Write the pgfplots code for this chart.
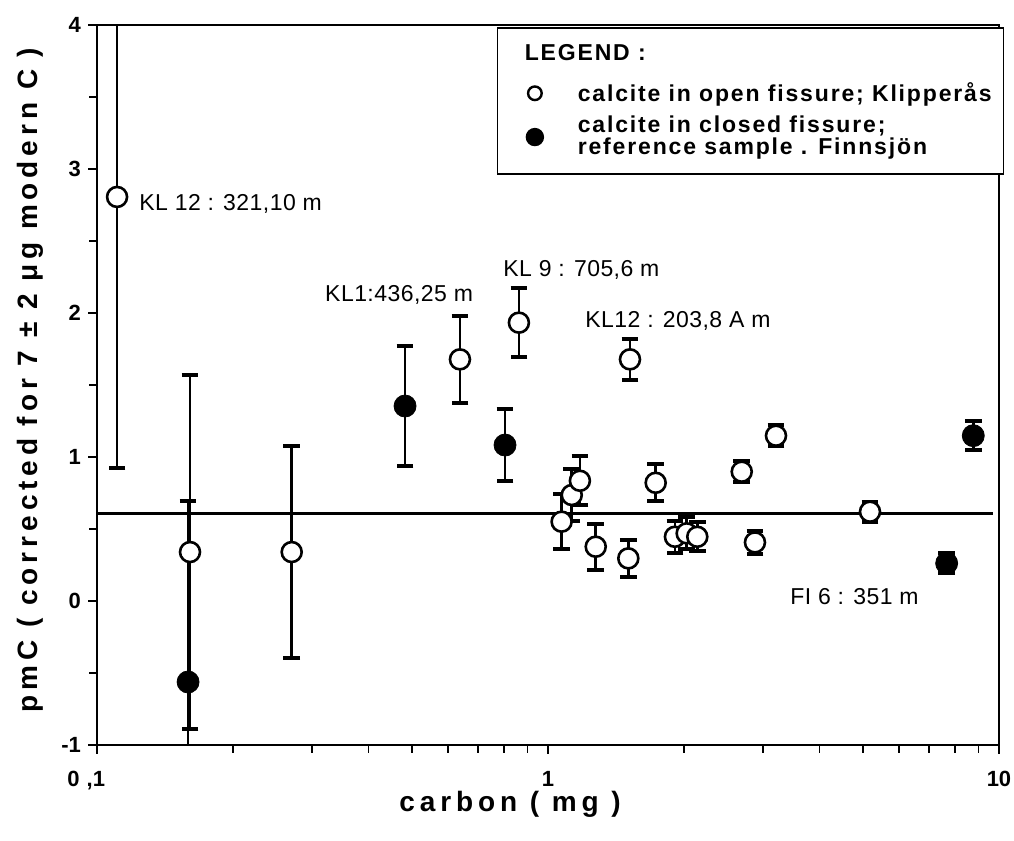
\documentclass[border=0pt]{standalone}
\usepackage{pgfplots}
\usepackage{pgfplotstable}
\pgfplotsset{compat=1.18}
\usepackage{fontspec}
\setmainfont{Liberation Sans}
\newfontfamily\legfont[LetterSpace=8]{Liberation Sans}
\newfontfamily\labfont[LetterSpace=17.5]{Liberation Sans}
\newfontfamily\annfont[LetterSpace=2]{Liberation Sans}
\newfontfamily\tickfont{Liberation Sans}

\pgfplotstableread{
x y e
0.1108 2.806 1.88
0.1608 0.34 1.23
0.2702 0.34 0.736
0.638 1.678 0.30
0.862 1.933 0.24
1.520 1.678 0.14
1.072 0.551 0.19
1.129 0.736 0.18
1.177 0.835 0.17
1.276 0.377 0.16
1.507 0.296 0.13
1.733 0.821 0.13
1.912 0.446 0.11
2.030 0.470 0.11
2.143 0.446 0.10
2.689 0.898 0.075
3.203 1.148 0.075
2.877 0.407 0.08
5.176 0.620 0.07
}\openpts

\pgfplotstableread{
x y e
0.1592 -0.5625 1.26
0.482 1.354 0.417
0.803 1.083 0.25
7.656 0.262 0.07
8.77 1.148 0.10
}\filledpts

\begin{document}
\begin{tikzpicture}
\useasboundingbox (0,0) rectangle (507pt,420.5pt);
\begin{axis}[
  at={(48.5pt,48pt)}, anchor=south west,
  scale only axis, width=451pt, height=360pt,
  xmode=log, xmin=0.1, xmax=10, ymin=-1, ymax=4,
  xtick={0.1,1,10}, xticklabels={{\makebox[0pt][r]{0\hspace{3.5pt},1\hspace*{-4pt}}},1,10},
  ytick={-1,0,1,2,3,4}, yticklabels={-1,0,1,2,3,4},
  minor ytick={-0.5,0.5,1.5,2.5,3.5},
  xtick pos=bottom, ytick pos=left, tick align=outside,
  major tick length=4.5pt, minor tick length=4pt,
  tick style={black, line width=0.8pt},
  axis line style={line width=0.8pt},
  ticklabel style={font=\tickfont\bfseries\fontsize{11}{13}\selectfont},
  xticklabel style={yshift=-5pt},
  xlabel={carbon ( mg )}, ylabel={pmC ( corrected for 7 ± 2 μg modern C )},
  label style={font=\labfont\bfseries\fontsize{14}{16}\selectfont},
  xlabel style={at={(axis description cs:0.458,-0.083)}, anchor=center},
  ylabel style={at={(axis description cs:-0.0743,0.507)}, anchor=center},
  legend image code/.code={\path (0cm,0cm) (1.17cm,0cm); \draw[#1] plot coordinates {(0.5cm,0cm)};},
  legend style={at={(axis description cs:1.006,0.997)}, anchor=north east, draw=black, line width=0.8pt, fill=white,
    font=\legfont\bfseries\fontsize{11.5}{12}\selectfont, inner xsep=4pt, inner ysep=6pt, row sep=2pt,
    cells={anchor=west, align=left}},
  legend cell align=left,
]
\addlegendimage{legend image code/.code={\path (0cm,-10pt) (0cm,4pt);}}
\addlegendentry{\hspace*{-26.5pt}LEGEND :}
\addlegendimage{only marks, mark=*, mark size=3.4pt, mark options={fill=white, draw=black, line width=1.2pt}}
\addlegendentry{calcite in open fissure; Klipperås}
\addlegendimage{only marks, mark=*, mark size=4.2pt, mark options={fill=black, draw=black}}
\addlegendentry{calcite in closed fissure;\\[-1pt]reference sample . Finnsjön}

\addplot[forget plot, line width=1.4pt] coordinates {(0.1,0.61) (9.7,0.61)};

\addplot[forget plot, only marks, mark=*, mark size=5.5pt, mark options={fill=black, draw=black},
  error bars/.cd, y dir=both, y explicit,
  error bar style={line width=1.3pt, black},
  error mark options={rotate=90, mark size=4.2pt, line width=2pt, black}]
  table[x=x, y=y, y error=e] {\filledpts};

\addplot[forget plot, only marks, mark=*, mark size=5pt, mark options={fill=white, draw=black, line width=1.3pt},
  error bars/.cd, y dir=both, y explicit,
  error bar style={line width=1.3pt, black},
  error mark options={rotate=90, mark size=4.2pt, line width=2pt, black}]
  table[x=x, y=y, y error=e] {\openpts};

\node[anchor=west, inner sep=0, font=\annfont\fontsize{11.5}{13}\selectfont] at (axis cs:0.1239,2.757) {KL 12 : 321,10 m};
\node[anchor=west, inner sep=0, font=\annfont\fontsize{11.5}{13}\selectfont] at (axis cs:0.320,2.125) {KL1:436,25 m};
\node[anchor=west, inner sep=0, font=\annfont\fontsize{11.5}{13}\selectfont] at (axis cs:0.795,2.299) {KL 9 : 705,6 m};
\node[anchor=west, inner sep=0, font=\annfont\fontsize{11.5}{13}\selectfont] at (axis cs:1.208,1.944) {KL12 : 203,8 A m};
\node[anchor=west, inner sep=0, font=\annfont\fontsize{11.5}{13}\selectfont] at (axis cs:3.44,0.028) {FI 6 : 351 m};
\end{axis}
\end{tikzpicture}
\end{document}
